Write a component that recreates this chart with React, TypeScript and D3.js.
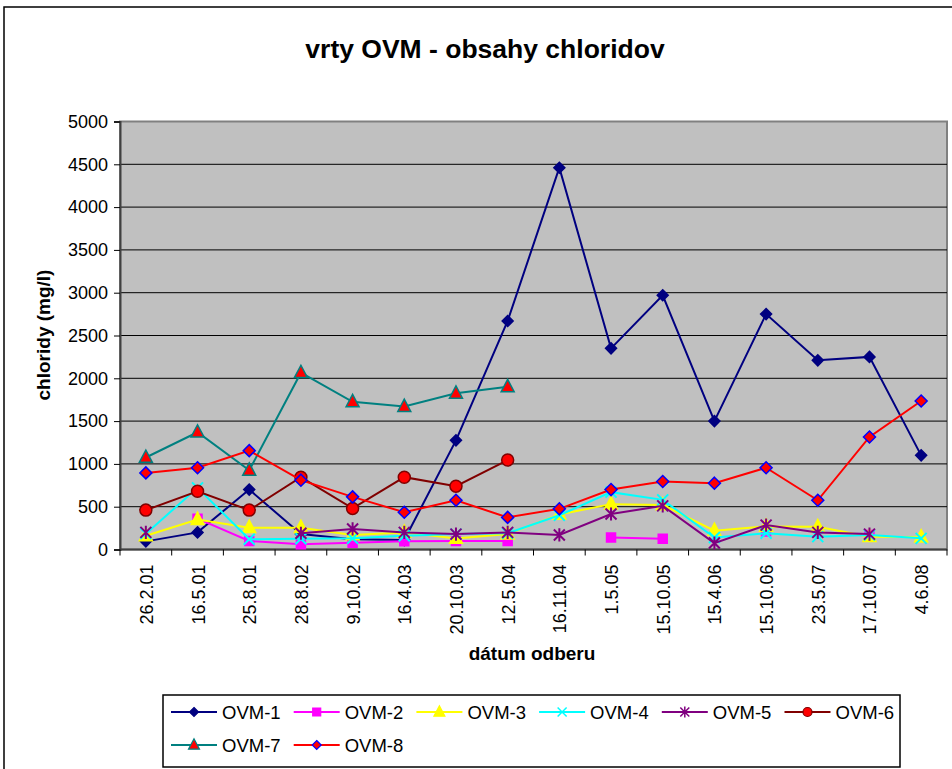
import React, { useEffect, useRef } from "react";
import * as d3 from "d3";

const dates = [
	"26.2.01", "16.5.01", "25.8.01", "28.8.02", "9.10.02", "16.4.03", "20.10.03", "12.5.04",
	"16.11.04", "1.5.05", "15.10.05", "15.4.06", "15.10.06", "23.5.07", "17.10.07", "4.6.08",
];

const ovm1 = [95, 200, 700, 180, 120, 110, 1275, 2670, 4460, 2350, 2970, 1500, 2750, 2210, 2250, 1100];
const ovm2 = [null, 360, 100, 60, 80, 95, 100, 100, null, 140, 125, null, 210, null, 170, null];
const ovm3 = [160, 350, 255, 255, 170, 200, 130, 180, 410, 530, 520, 220, 270, 265, 150, 145];
const ovm4 = [185, 720, 120, 125, 130, 160, 180, 190, 400, 670, 580, 140, 190, 150, 170, 130];
const ovm5 = [200, null, null, 190, 240, 200, 180, 200, 170, 415, 510, 75, 285, 200, 180, null];
const ovm6 = [460, 680, 460, 845, 480, 845, 740, 1045, null, null, null, null, null, null, null, null];
const ovm7 = [1075, 1370, 925, 2065, 1725, 1670, 1825, 1900, null, null, null, null, null, null, null, null];
const ovm8 = [895, 955, 1155, 810, 615, 435, 575, 375, 475, 700, 795, 775, 955, 575, 1315, 1735];

const yTicks = [0, 500, 1000, 1500, 2000, 2500, 3000, 3500, 4000, 4500, 5000];

type Marker = "diamond" | "square" | "triangle" | "x" | "star" | "circle";

const series: { name: string; values: (number | null)[]; line: string; marker: Marker; fill: string; stroke: string }[] = [
	{ name: "OVM-1", values: ovm1, line: "#000080", marker: "diamond", fill: "#000080", stroke: "#000080" },
	{ name: "OVM-2", values: ovm2, line: "#FF00FF", marker: "square", fill: "#FF00FF", stroke: "#FF00FF" },
	{ name: "OVM-3", values: ovm3, line: "#FFFF00", marker: "triangle", fill: "#FFFF00", stroke: "#FFFF00" },
	{ name: "OVM-4", values: ovm4, line: "#00FFFF", marker: "x", fill: "none", stroke: "#00FFFF" },
	{ name: "OVM-5", values: ovm5, line: "#800080", marker: "star", fill: "none", stroke: "#800080" },
	{ name: "OVM-6", values: ovm6, line: "#800000", marker: "circle", fill: "#FF0000", stroke: "#800000" },
	{ name: "OVM-7", values: ovm7, line: "#008080", marker: "triangle", fill: "#FF0000", stroke: "#008080" },
	{ name: "OVM-8", values: ovm8, line: "#FF0000", marker: "diamond", fill: "#FF0000", stroke: "#0000FF" },
];

const FONT = "'Liberation Sans', Arial, sans-serif";

// path of a marker centred at 0,0
function markerPath(kind: Marker, r: number) {
	switch (kind) {
		case "diamond":
			return `M0,${-r}L${r},0L0,${r}L${-r},0Z`;
		case "square":
			return `M${-r},${-r}H${r}V${r}H${-r}Z`;
		case "triangle":
			return `M0,${-r * 1.15}L${r},${r * 0.75}L${-r},${r * 0.75}Z`;
		case "x":
			return `M${-r},${-r}L${r},${r}M${-r},${r}L${r},${-r}`;
		case "star":
			return `M${-r},${-r}L${r},${r}M${-r},${r}L${r},${-r}M0,${-r * 1.2}V${r * 1.2}`;
		case "circle":
			return d3.symbol(d3.symbolCircle, Math.PI * r * r)() as string;
	}
}

function markerSize(s: { name: string; marker: Marker }) {
	if (s.marker === "square") return 4.5;
	if (s.marker === "circle") return 6;
	if (s.marker === "triangle") return 6.5;
	if (s.name === "OVM-8") return 6;
	return 5.5;
}

export default function App() {
	const svgRef = useRef<SVGSVGElement>(null);

	useEffect(() => {
		const svg = d3.select(svgRef.current);
		svg.selectAll("*").remove();

		const left = 120, right = 947, top = 121.5, bottom = 549.5;

		const x = d3.scalePoint<string>().domain(dates).range([left, right]).padding(0.5);
		const step = x.step();
		const y = d3.scaleLinear().domain([0, 5000]).range([bottom, top]);

		// outer chart border
		svg.append("rect")
			.attr("x", 4).attr("y", 7).attr("width", 1000).attr("height", 800)
			.attr("fill", "white").attr("stroke", "black").attr("stroke-width", 1.5);

		// plot background
		svg.append("rect")
			.attr("x", left).attr("y", top).attr("width", right - left).attr("height", bottom - top)
			.attr("fill", "#C0C0C0").attr("stroke", "#808080").attr("stroke-width", 2);

		// gridlines
		svg.append("g")
			.selectAll("line")
			.data(yTicks.filter((t) => t > 0 && t < 5000))
			.join("line")
			.attr("x1", left).attr("x2", right)
			.attr("y1", (d) => y(d)).attr("y2", (d) => y(d))
			.attr("stroke", "black").attr("stroke-width", 1);

		// y axis
		const yAxis = svg.append("g").attr("transform", `translate(${left},0)`)
			.call(d3.axisLeft(y).tickValues(yTicks).tickSize(6).tickPadding(6).tickFormat(d3.format("d")));
		yAxis.select(".domain").attr("stroke", "#404040").attr("stroke-width", 2);
		yAxis.selectAll(".tick line").attr("stroke", "black");
		yAxis.selectAll("text").attr("font-family", FONT).attr("font-size", 18).attr("fill", "black");

		// x axis
		const xAxisG = svg.append("g");
		xAxisG.append("line")
			.attr("x1", left).attr("x2", right).attr("y1", bottom).attr("y2", bottom)
			.attr("stroke", "#404040").attr("stroke-width", 2);
		xAxisG.selectAll(".xtick")
			.data(d3.range(dates.length + 1))
			.join("line")
			.attr("class", "xtick")
			.attr("x1", (i) => left + i * step).attr("x2", (i) => left + i * step)
			.attr("y1", bottom).attr("y2", bottom + 6)
			.attr("stroke", "black");
		xAxisG.selectAll(".xlabel")
			.data(dates)
			.join("text")
			.attr("class", "xlabel")
			.attr("transform", (d) => `translate(${x(d)! + 1},${bottom + 15}) rotate(-90)`)
			.attr("text-anchor", "end")
			.attr("dominant-baseline", "central")
			.attr("font-family", FONT)
			.attr("font-size", 18)
			.text((d) => d);

		// series
		const line = d3.line<number | null>()
			.defined((d) => d != null)
			.x((_, i) => x(dates[i])!)
			.y((d) => y(d as number));

		series.forEach((s) => {
			const g = svg.append("g");
			g.append("path")
				.attr("d", line(s.values))
				.attr("fill", "none")
				.attr("stroke", s.line)
				.attr("stroke-width", 2);
			const pts = s.values.map((v, i) => ({ v, i })).filter((p) => p.v != null);
			g.selectAll("path.m")
				.data(pts)
				.join("path")
				.attr("class", "m")
				.attr("transform", (p) => `translate(${x(dates[p.i])},${y(p.v as number)})`)
				.attr("d", markerPath(s.marker, markerSize(s)))
				.attr("fill", s.fill)
				.attr("stroke", s.stroke)
				.attr("stroke-width", s.marker === "x" || s.marker === "star" ? 2 : 1.5);
		});

		// titles
		svg.append("text")
			.attr("x", 485).attr("y", 58)
			.attr("text-anchor", "middle")
			.attr("font-family", FONT).attr("font-weight", "bold").attr("font-size", 26.5)
			.text("vrty OVM - obsahy chloridov");

		svg.append("text")
			.attr("transform", `translate(43,335) rotate(-90)`)
			.attr("text-anchor", "middle")
			.attr("dominant-baseline", "central")
			.attr("font-family", FONT).attr("font-weight", "bold").attr("font-size", 19)
			.text("chloridy (mg/l)");

		svg.append("text")
			.attr("x", 532).attr("y", 660)
			.attr("text-anchor", "middle")
			.attr("font-family", FONT).attr("font-weight", "bold").attr("font-size", 19)
			.text("dátum odberu");

		// legend
		const legend = svg.append("g");
		legend.append("rect")
			.attr("x", 163).attr("y", 695).attr("width", 737).attr("height", 72)
			.attr("fill", "white").attr("stroke", "black").attr("stroke-width", 1.5);

		const items = legend.selectAll(".item")
			.data(series)
			.join("g")
			.attr("class", "item")
			.attr("transform", (_, i) => `translate(${171 + (i % 6) * 122.7},${i < 6 ? 712 : 745})`);
		items.append("line")
			.attr("x1", 0).attr("x2", 46)
			.attr("stroke", (d) => d.line).attr("stroke-width", 2);
		items.append("path")
			.attr("transform", "translate(23,0)")
			.attr("d", (d) => markerPath(d.marker, d.marker === "square" ? 4 : d.marker === "triangle" ? 5.5 : 4.5))
			.attr("fill", (d) => d.fill)
			.attr("stroke", (d) => d.stroke)
			.attr("stroke-width", (d) => (d.marker === "x" || d.marker === "star" ? 1.5 : 1.2));
		items.append("text")
			.attr("x", 51)
			.attr("dominant-baseline", "central")
			.attr("font-family", FONT).attr("font-size", 18.5)
			.text((d) => d.name);
	}, []);

	return <svg ref={svgRef} width={952} height={769} style={{ display: "block", position: "absolute", left: 0, top: 0 }} />;
}
